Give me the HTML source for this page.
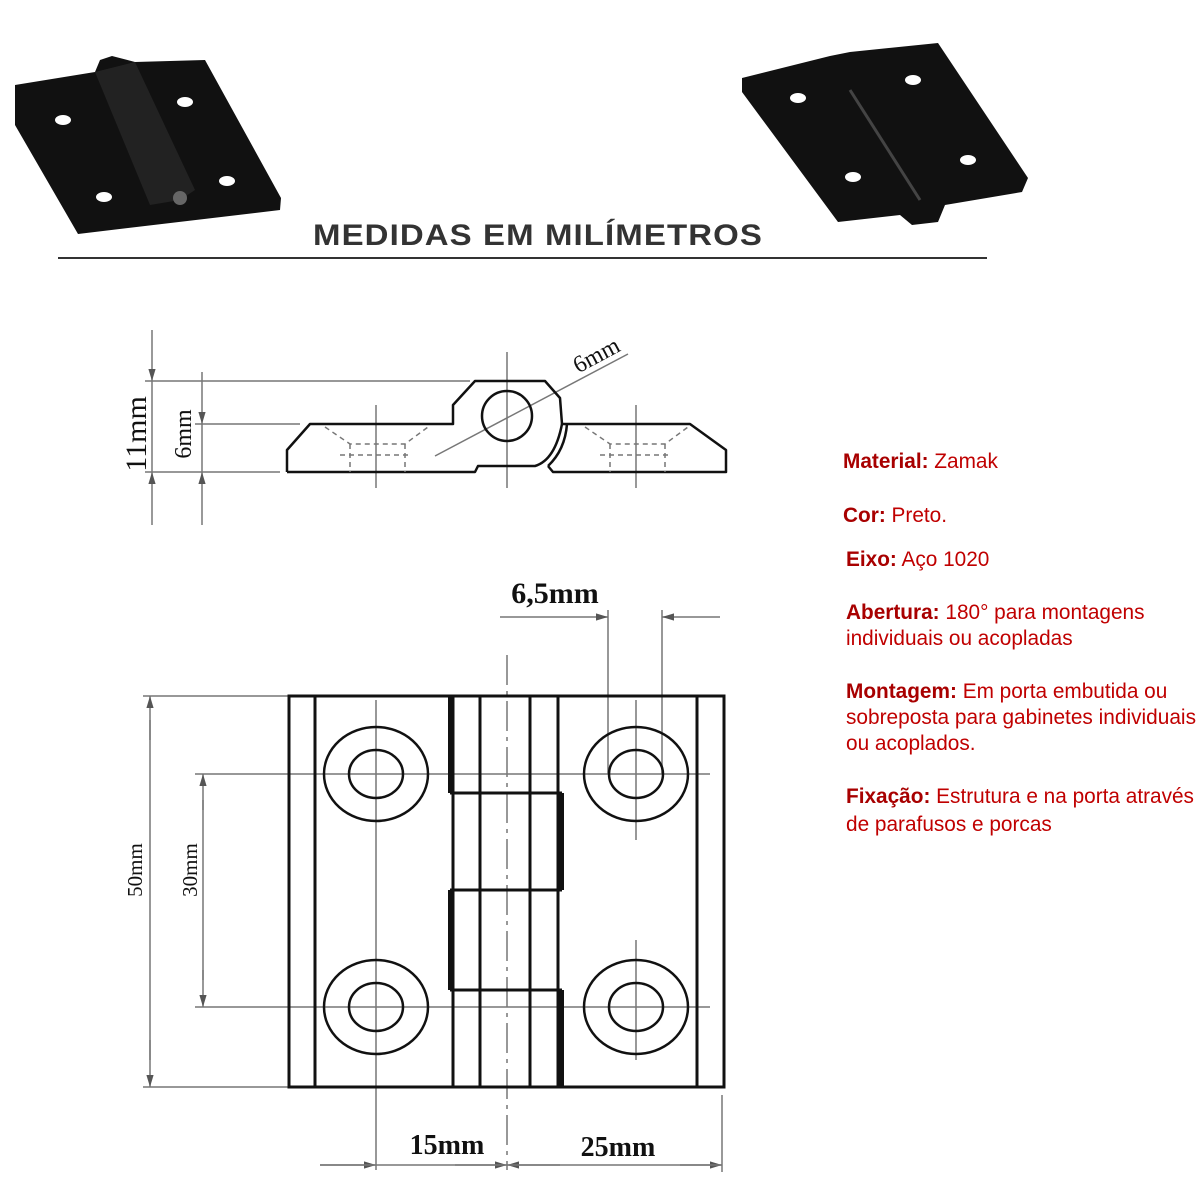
<!DOCTYPE html>
<html><head><meta charset="utf-8"><style>
html,body{margin:0;padding:0;background:#fff;width:1200px;height:1200px;overflow:hidden}
svg{display:block}
.t{font-family:"Liberation Sans",sans-serif;font-size:20.8px;fill:#c00000}
.b{font-weight:bold;fill:#a80000}
.dim{font-family:"Liberation Serif",serif;fill:#111}
</style></head><body>
<svg width="1200" height="1200" viewBox="0 0 1200 1200" xmlns="http://www.w3.org/2000/svg">
<defs>
<marker id="ar" viewBox="0 0 10 10" refX="10" refY="5" markerWidth="8" markerHeight="8" orient="auto-start-reverse"><path d="M0,2 L10,5 L0,8 z" fill="#555"/></marker>
</defs>
<!-- left photo hinge -->
<g fill="#111">
<polygon points="15,85 95,72 100,60 112,56 135,62 205,60 281,198 280,210 78,234 15,125"/>
</g>
<g fill="#222"><polygon points="95,72 135,62 195,190 180,200 150,205"/></g>
<g fill="#fff">
<ellipse cx="63" cy="120" rx="8" ry="5"/><ellipse cx="185" cy="102" rx="8" ry="5"/>
<ellipse cx="104" cy="197" rx="8" ry="5"/><ellipse cx="227" cy="181" rx="8" ry="5"/>
</g>
<circle cx="180" cy="198" r="7" fill="#666"/>
<!-- right photo hinge -->
<g fill="#111">
<polygon points="742,78 830,56 850,52 938,43 1028,178 1022,192 945,205 938,222 912,225 900,215 838,222 742,92"/>
</g>
<line x1="850" y1="90" x2="920" y2="200" stroke="#444" stroke-width="3"/>
<g fill="#fff">
<ellipse cx="798" cy="98" rx="8" ry="5"/><ellipse cx="913" cy="80" rx="8" ry="5"/>
<ellipse cx="853" cy="177" rx="8" ry="5"/><ellipse cx="968" cy="160" rx="8" ry="5"/>
</g>
<text x="538" y="245" text-anchor="middle" font-family="Liberation Sans Narrow,Liberation Sans,sans-serif" font-size="30" font-weight="bold" fill="#333" letter-spacing="1" textLength="450" lengthAdjust="spacingAndGlyphs">MEDIDAS EM MILÍMETROS</text>
<line x1="58" y1="258" x2="987" y2="258" stroke="#333" stroke-width="2"/>

<!-- side view -->
<g stroke="#777" stroke-width="1.5" fill="none">
<line x1="152" y1="330" x2="152" y2="381" marker-end="url(#ar)"/>
<line x1="152" y1="525" x2="152" y2="472" marker-end="url(#ar)"/>
<line x1="152" y1="381" x2="152" y2="472"/>
<line x1="202" y1="372" x2="202" y2="424" marker-end="url(#ar)"/>
<line x1="202" y1="525" x2="202" y2="472" marker-end="url(#ar)"/>
<line x1="202" y1="424" x2="202" y2="472"/>
<line x1="145" y1="381" x2="470" y2="381"/>
<line x1="145" y1="472" x2="280" y2="472"/>
<line x1="195" y1="424" x2="300" y2="424"/>
<line x1="435" y1="456" x2="628" y2="354"/>
<line x1="376" y1="405" x2="376" y2="488"/>
<line x1="636" y1="405" x2="636" y2="488"/>
<line x1="507" y1="352" x2="507" y2="488"/>
</g>
<g stroke="#111" stroke-width="2.5" fill="none" stroke-linejoin="round">
<path d="M287,472 L287,450 L310,424 L453,424 L453,405 L475,381 L545,381 L560,398 L562,424 L690,424 L726,450 L726,472 L553,472 L548,466"/>
<path d="M287,472 L475,472 L478,466 L535,466 Q555,460 562,424"/>
<path d="M548,466 Q565,450 567,424"/>
<circle cx="507" cy="416" r="25"/>
</g>
<g stroke="#777" stroke-width="1.5" fill="none" stroke-dasharray="5,4">
<path d="M325,427 L350,444 L405,444 L428,427"/>
<path d="M350,444 L350,472 M405,444 L405,472 M340,455 L412,455"/>
<path d="M585,427 L610,444 L665,444 L688,427"/>
<path d="M610,444 L610,472 M665,444 L665,472 M600,455 L672,455"/>
</g>
<text class="dim" font-size="30" transform="translate(146,434) rotate(-90)" text-anchor="middle">11mm</text>
<text class="dim" font-size="24" transform="translate(191,434) rotate(-90)" text-anchor="middle">6mm</text>
<text class="dim" font-size="24" transform="translate(600,362) rotate(-28)" text-anchor="middle">6mm</text>

<!-- front view -->
<g stroke="#777" stroke-width="1.5" fill="none">
<line x1="143" y1="696" x2="289" y2="696"/>
<line x1="143" y1="1087" x2="289" y2="1087"/>
<line x1="150" y1="740" x2="150" y2="696" marker-end="url(#ar)"/>
<line x1="150" y1="1040" x2="150" y2="1087" marker-end="url(#ar)"/>
<line x1="150" y1="720" x2="150" y2="1060"/>
<line x1="195" y1="774" x2="710" y2="774"/>
<line x1="195" y1="1007" x2="710" y2="1007"/>
<line x1="203" y1="810" x2="203" y2="774" marker-end="url(#ar)"/>
<line x1="203" y1="970" x2="203" y2="1007" marker-end="url(#ar)"/>
<line x1="203" y1="800" x2="203" y2="980"/>
<line x1="608" y1="610" x2="608" y2="774"/>
<line x1="662" y1="610" x2="662" y2="774"/>
<line x1="500" y1="617" x2="608" y2="617" marker-end="url(#ar)"/>
<line x1="720" y1="617" x2="662" y2="617" marker-end="url(#ar)"/>
<line x1="376" y1="700" x2="376" y2="1170"/>
<line x1="636" y1="700" x2="636" y2="840"/>
<line x1="636" y1="940" x2="636" y2="1060"/>
<line x1="507" y1="655" x2="507" y2="1170" stroke-dasharray="30,6,4,6"/>
<line x1="722" y1="1095" x2="722" y2="1172"/>
<line x1="320" y1="1165" x2="376" y2="1165" marker-end="url(#ar)"/>
<line x1="455" y1="1165" x2="507" y2="1165" marker-end="url(#ar)"/>
<line x1="560" y1="1165" x2="507" y2="1165" marker-end="url(#ar)"/>
<line x1="680" y1="1165" x2="722" y2="1165" marker-end="url(#ar)"/>
<line x1="320" y1="1165" x2="722" y2="1165"/>
</g>
<g stroke="#111" stroke-width="3" fill="none">
<rect x="289" y="696" width="435" height="391"/>
<line x1="315" y1="696" x2="315" y2="1087"/>
<line x1="697" y1="696" x2="697" y2="1087"/>
<line x1="453" y1="696" x2="453" y2="1087"/>
<line x1="480" y1="696" x2="480" y2="1087"/>
<line x1="530" y1="696" x2="530" y2="1087"/>
<line x1="558" y1="696" x2="558" y2="1087"/>
<line x1="450" y1="793" x2="562" y2="793"/>
<line x1="450" y1="890" x2="562" y2="890"/>
<line x1="450" y1="990" x2="562" y2="990"/>
</g>
<g stroke="#111" stroke-width="6">
<line x1="451" y1="696" x2="451" y2="793"/>
<line x1="561" y1="793" x2="561" y2="890"/>
<line x1="451" y1="890" x2="451" y2="990"/>
<line x1="561" y1="990" x2="561" y2="1087"/>
</g>
<g stroke="#111" stroke-width="2.5" fill="none">
<ellipse cx="376" cy="774" rx="52" ry="47"/><ellipse cx="376" cy="774" rx="27" ry="24"/>
<ellipse cx="636" cy="774" rx="52" ry="47"/><ellipse cx="636" cy="774" rx="27" ry="24"/>
<ellipse cx="376" cy="1007" rx="52" ry="47"/><ellipse cx="376" cy="1007" rx="27" ry="24"/>
<ellipse cx="636" cy="1007" rx="52" ry="47"/><ellipse cx="636" cy="1007" rx="27" ry="24"/>
</g>
<text class="dim" font-size="21" transform="translate(142,870) rotate(-90)" text-anchor="middle">50mm</text>
<text class="dim" font-size="21" transform="translate(197,870) rotate(-90)" text-anchor="middle">30mm</text>
<text class="dim" font-size="30" font-weight="bold" x="555" y="603" text-anchor="middle">6,5mm</text>
<text class="dim" font-size="28" font-weight="bold" x="447" y="1154" text-anchor="middle">15mm</text>
<text class="dim" font-size="28" font-weight="bold" x="618" y="1156" text-anchor="middle">25mm</text>

<!-- right text -->
<text class="t" x="843" y="468"><tspan class="b">Material:</tspan> Zamak</text>
<text class="t" x="843" y="522"><tspan class="b">Cor:</tspan> Preto.</text>
<text class="t" x="846" y="566"><tspan class="b">Eixo:</tspan> Aço 1020</text>
<text class="t" x="846" y="619"><tspan class="b">Abertura:</tspan> 180° para montagens</text>
<text class="t" x="846" y="645">individuais ou acopladas</text>
<text class="t" x="846" y="698"><tspan class="b">Montagem:</tspan> Em porta embutida ou</text>
<text class="t" x="846" y="724" textLength="350" lengthAdjust="spacingAndGlyphs">sobreposta para gabinetes individuais</text>
<text class="t" x="846" y="750">ou acoplados.</text>
<text class="t" x="846" y="803"><tspan class="b">Fixação:</tspan> Estrutura e na porta através</text>
<text class="t" x="846" y="831">de parafusos e porcas</text>
</svg>
</body></html>
